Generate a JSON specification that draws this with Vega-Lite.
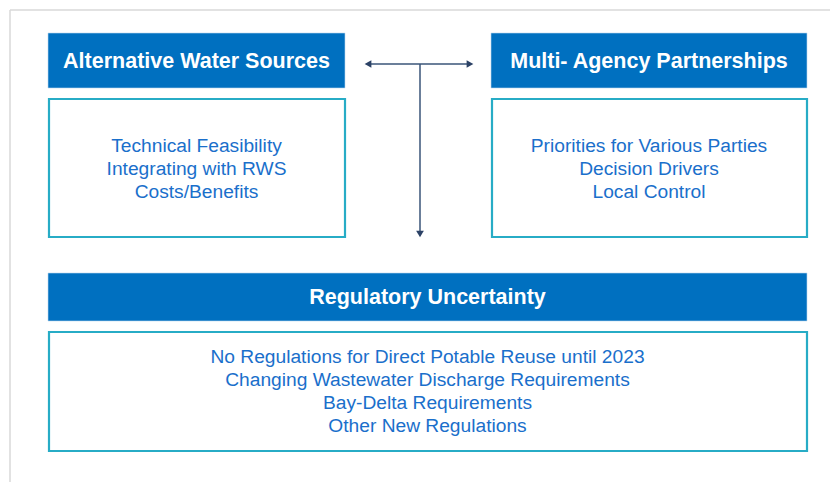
{
  "$schema": "https://vega.github.io/schema/vega-lite/v6.json",
  "width": 830,
  "height": 482,
  "autosize": "none",
  "padding": 0,
  "background": "white",
  "config": {"view": {"stroke": null}, "axis": {"disable": true}},
  "datasets": {
    "frame": [
      {"x": 10, "y": 10, "x2": 830, "y2": 10},
      {"x": 10, "y": 10, "x2": 10, "y2": 482}
    ],
    "headers": [
      {"x": 48, "x2": 345, "y": 33, "y2": 88},
      {"x": 491, "x2": 807, "y": 33, "y2": 88},
      {"x": 48, "x2": 807, "y": 273, "y2": 321}
    ],
    "bodies": [
      {"x": 49, "x2": 345, "y": 99, "y2": 237},
      {"x": 492, "x2": 807, "y": 99, "y2": 237},
      {"x": 49, "x2": 807, "y": 332, "y2": 451}
    ],
    "lines": [
      {"x": 369, "y": 64, "x2": 469, "y2": 64},
      {"x": 420, "y": 64, "x2": 420, "y2": 232}
    ],
    "heads": [
      {"x": 368, "y": 64, "shape": "triangle-left"},
      {"x": 470, "y": 64, "shape": "triangle-right"},
      {"x": 420, "y": 234, "shape": "triangle-down"}
    ],
    "titles": [
      {"x": 196.5, "y": 62, "label": "Alternative Water Sources"},
      {"x": 649, "y": 62, "label": "Multi- Agency Partnerships"},
      {"x": 427.5, "y": 298, "label": "Regulatory Uncertainty"}
    ],
    "items": [
      {"x": 196.5, "y": 146, "label": "Technical Feasibility"},
      {"x": 196.5, "y": 169, "label": "Integrating with RWS"},
      {"x": 196.5, "y": 192, "label": "Costs/Benefits"},
      {"x": 649, "y": 146, "label": "Priorities for Various Parties"},
      {"x": 649, "y": 169, "label": "Decision Drivers"},
      {"x": 649, "y": 192, "label": "Local Control"},
      {"x": 427.5, "y": 357, "label": "No Regulations for Direct Potable Reuse until 2023"},
      {"x": 427.5, "y": 380, "label": "Changing Wastewater Discharge Requirements"},
      {"x": 427.5, "y": 403, "label": "Bay-Delta Requirements"},
      {"x": 427.5, "y": 426, "label": "Other New Regulations"}
    ]
  },
  "layer": [
    {
      "data": {"name": "frame"},
      "mark": {"type": "rule", "color": "#d9d9d9", "strokeWidth": 1.5},
      "encoding": {
        "x": {"field": "x", "type": "quantitative", "scale": {"domain": [0, 830], "nice": false, "zero": false}, "axis": null},
        "y": {"field": "y", "type": "quantitative", "scale": {"domain": [0, 482], "nice": false, "zero": false, "reverse": true}, "axis": null},
        "x2": {"field": "x2"},
        "y2": {"field": "y2"}
      }
    },
    {
      "data": {"name": "headers"},
      "mark": {"type": "rect", "fill": "#0070c0", "stroke": "#bcd9ee", "strokeWidth": 0.6},
      "encoding": {
        "x": {"field": "x", "type": "quantitative", "axis": null},
        "x2": {"field": "x2"},
        "y": {"field": "y", "type": "quantitative", "axis": null},
        "y2": {"field": "y2"}
      }
    },
    {
      "data": {"name": "bodies"},
      "mark": {"type": "rect", "fill": "white", "stroke": "#27acc6", "strokeWidth": 2.2},
      "encoding": {
        "x": {"field": "x", "type": "quantitative", "axis": null},
        "x2": {"field": "x2"},
        "y": {"field": "y", "type": "quantitative", "axis": null},
        "y2": {"field": "y2"}
      }
    },
    {
      "data": {"name": "lines"},
      "mark": {"type": "rule", "color": "#3a5478", "strokeWidth": 1.5},
      "encoding": {
        "x": {"field": "x", "type": "quantitative", "axis": null},
        "x2": {"field": "x2"},
        "y": {"field": "y", "type": "quantitative", "axis": null},
        "y2": {"field": "y2"}
      }
    },
    {
      "data": {"name": "heads"},
      "mark": {"type": "point", "filled": true, "color": "#2c4266", "size": 60, "opacity": 1},
      "encoding": {
        "x": {"field": "x", "type": "quantitative", "axis": null},
        "y": {"field": "y", "type": "quantitative", "axis": null},
        "shape": {"field": "shape", "type": "nominal", "scale": null, "legend": null}
      }
    },
    {
      "data": {"name": "titles"},
      "mark": {"type": "text", "font": "Liberation Sans", "fontSize": 21.5, "fontWeight": "bold", "color": "white", "align": "center", "baseline": "middle"},
      "encoding": {
        "x": {"field": "x", "type": "quantitative", "axis": null},
        "y": {"field": "y", "type": "quantitative", "axis": null},
        "text": {"field": "label"}
      }
    },
    {
      "data": {"name": "items"},
      "mark": {"type": "text", "font": "Liberation Sans", "fontSize": 19.2, "color": "#1a6fcb", "align": "center", "baseline": "middle"},
      "encoding": {
        "x": {"field": "x", "type": "quantitative", "axis": null},
        "y": {"field": "y", "type": "quantitative", "axis": null},
        "text": {"field": "label"}
      }
    }
  ]
}
